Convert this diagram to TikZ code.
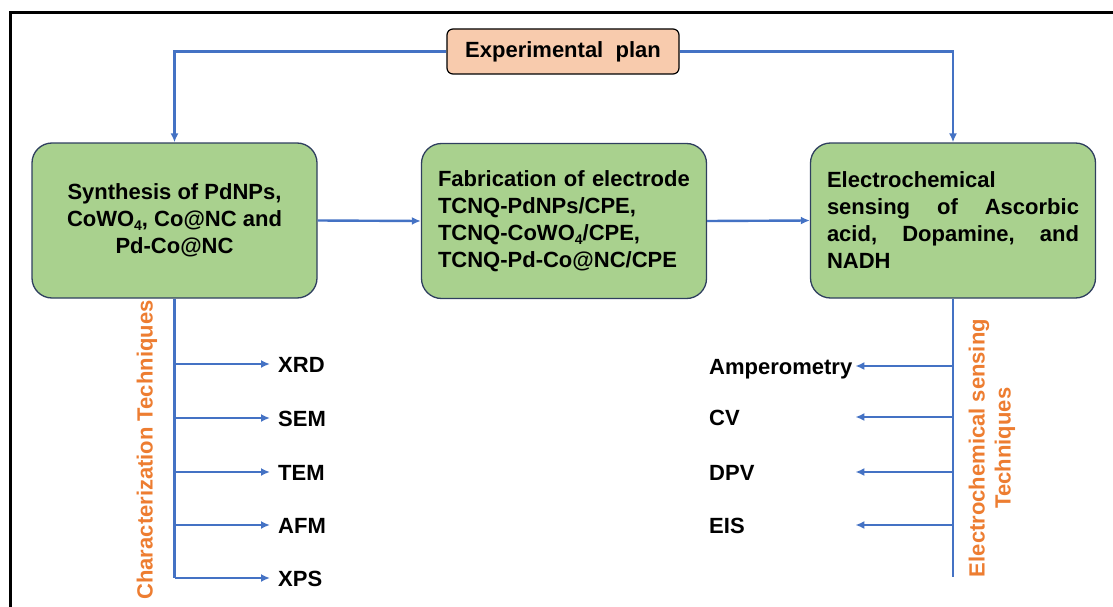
\documentclass[tikz,border=0pt]{standalone}
\usepackage{fontspec}
\setmainfont{Liberation Sans}
\usetikzlibrary{arrows.meta}

\definecolor{boxgreen}{HTML}{A9D18E}
\definecolor{boxedge}{HTML}{2F3F5F}
\definecolor{peach}{HTML}{F8CBAD}
\definecolor{linkblue}{HTML}{4472C4}
\definecolor{techorange}{HTML}{ED7D31}

\newcommand\subsc[1]{\raisebox{-0.35ex}{\fontsize{14}{14}\selectfont #1}}

\tikzset{
  stagebox/.style={draw=boxedge, line width=1.3pt, fill=boxgreen, rounded corners=20pt,
    minimum width=285pt, minimum height=155pt, inner sep=0pt,
    font=\fontsize{22}{27}\selectfont\bfseries},
  planbox/.style={draw=black, line width=1.2pt, fill=peach, rounded corners=6pt,
    minimum width=232pt, minimum height=45pt, inner sep=0pt,
    font=\fontsize{22}{27}\selectfont\bfseries},
  link/.style={draw=linkblue, line width=2.4pt},
  arr/.style={link, -{Latex[length=9pt,width=8pt]}},
  techlabel/.style={font=\fontsize{22}{27}\selectfont\bfseries, text height=16pt, text depth=0pt},
  groupname/.style={font=\fontsize{22}{26}\selectfont\bfseries, text=techorange, rotate=90, align=center, inner sep=0pt},
}

\begin{document}
\begin{tikzpicture}[x=1pt, y=-1pt]
  \useasboundingbox (0,0) rectangle (1113,607);

  % outer frame (left and top edges)
  \draw[line width=3.6pt, black] (10.5,607) -- (10.5,12.7) -- (1113,12.7);

  % plan and the three stages
  \node[planbox] (plan) at (563,51.5) {Experimental\ \ plan};
  \node[stagebox, align=center] (synth) at (174.5,220.5)
    {Synthesis of PdNPs,\\ CoWO\subsc{4}, Co@NC and\\ Pd-Co@NC};
  \node[stagebox, align=left, text width=252pt] (fab) at (564,221)
    {Fabrication of electrode\\ TCNQ-PdNPs/CPE,\\ TCNQ-CoWO\subsc{4}/CPE,\\ TCNQ-Pd-Co@NC/CPE};
  \node[stagebox, align=left, text width=252pt] (sense) at (953,220.5)
    {Electrochemical\\ \makebox[252pt][l]{sensing\hfill of\hfill Ascorbic}\\ \makebox[252pt][l]{acid,\hfill Dopamine,\hfill and}\\ NADH};

  % flow between plan and stages
  \draw[arr] (plan.west) -| (synth.north);
  \draw[arr] (plan.east) -| (sense.north);
  \draw[arr] (synth.east) -- (fab.west);
  \draw[arr] (fab.east) -- (sense.west);

  % characterization branch
  \node[techlabel, anchor=west, inner xsep=8pt] (xrd) at (270,364) {XRD};
  \node[techlabel, anchor=west, inner xsep=8pt] (sem) at (270,418) {SEM};
  \node[techlabel, anchor=west, inner xsep=8pt] (tem) at (270,472) {TEM};
  \node[techlabel, anchor=west, inner xsep=8pt] (afm) at (270,525) {AFM};
  \node[techlabel, anchor=west, inner xsep=8pt] (xps) at (270,578) {XPS};
  \draw[link] (synth.south) -- (synth.south |- xps.west);
  \foreach \t in {xrd,sem,tem,afm,xps}
    \draw[arr] (synth.south |- \t.west) -- (\t.west);
  \node[groupname] (charname) at (147,450) {Characterization Techniques};

  % electrochemical sensing branch
  \node[techlabel, anchor=west, inner xsep=0pt, text width=146pt, align=left] (amp) at (709,366) {Amperometry};
  \node[techlabel, anchor=west, inner xsep=0pt, text width=146pt, align=left] (cv) at (709,417) {CV};
  \node[techlabel, anchor=west, inner xsep=0pt, text width=146pt, align=left] (dpv) at (709,472) {DPV};
  \node[techlabel, anchor=west, inner xsep=0pt, text width=146pt, align=left] (eis) at (709,525) {EIS};
  \coordinate (sensebot) at (952,577);
  \draw[link] (sense.south) -- (sense.south |- sensebot);
  \foreach \t in {amp,cv,dpv,eis}
    \draw[arr] (sense.south |- \t.east) -- (\t.east);
  \node[groupname] (sensename) at (992,448) {Electrochemical sensing\\ Techniques};
\end{tikzpicture}
\end{document}
